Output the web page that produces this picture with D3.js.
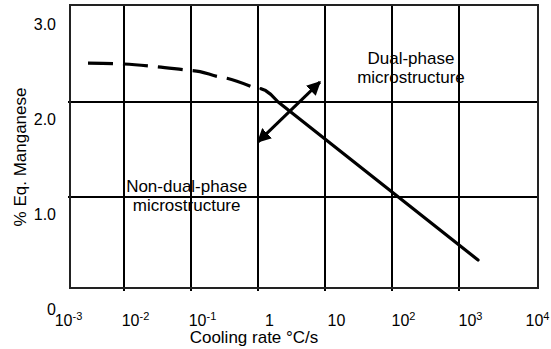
<!DOCTYPE html>
<html>
<head>
<meta charset="utf-8">
<script src="https://cdn.jsdelivr.net/npm/d3@7"></script>
<style>
  body { margin: 0; background: #fff; }
  text { font-family: "Liberation Sans", Arial, sans-serif; fill: #000; }
</style>
</head>
<body>
<svg id="chart" width="551" height="349"></svg>
<script>
// x tick values and labels (base + superscript)
const xTickValues = [1e-3, 1e-2, 1e-1, 1, 10, 1e2, 1e3, 1e4];
const xTickBase = ["10", "10", "10", "1", "10", "10", "10", "10"];
const xTickSup = ["-3", "-2", "-1", "", "", "2", "3", "4"];
const xGridValues = [1e-2, 1e-1, 1, 10, 1e2, 1e3];

const yTickValues = [0, 1, 2, 3];
const yTickLabels = ["0", "1.0", "2.0", "3.0"];
const yGridValues = [1, 2];

// boundary curve: dashed (estimated) part and solid part
const dashedX = [0.0029, 0.01, 0.032, 0.076, 0.136, 0.244, 0.344, 0.81];
const dashedY = [2.41, 2.40, 2.37, 2.34, 2.32, 2.27, 2.25, 2.16];
const solidX = [1.11, 1.3, 1.55, 2.0, 1923];
const solidY = [2.14, 2.12, 2.08, 2.0, 0.337];

// double arrow ends (data units)
const arrowX = [1.0, 8.4];
const arrowY = [1.58, 2.21];

const annotations = [
    { lines: ["Dual-phase", "microstructure"], x: 192, y: 2.4 },
    { lines: ["Non-dual-phase", "microstructure"], x: 0.086, y: 1.05 }
];

const svg = d3.select('#chart');
const box = { left: 70, right: 538, top: 5, bottom: 288 };

const x = d3.scaleLog().domain([1e-3, 1e4]).range([57, 526]);
const y = d3.scaleLinear().domain([0, 3]).range([292, 7]);

// grid
svg.append('g').selectAll('line')
    .data(xGridValues).join('line')
    .attr('x1', d => x(d)).attr('x2', d => x(d))
    .attr('y1', box.top).attr('y2', box.bottom + 3)
    .attr('stroke', '#000').attr('stroke-width', 2);

svg.append('g').selectAll('line')
    .data(yGridValues).join('line')
    .attr('x1', box.left - 2).attr('x2', box.right)
    .attr('y1', d => y(d)).attr('y2', d => y(d))
    .attr('stroke', '#000').attr('stroke-width', 2);

// frame
svg.append('rect')
    .attr('x', box.left).attr('y', box.top)
    .attr('width', box.right - box.left).attr('height', box.bottom - box.top)
    .attr('fill', 'none').attr('stroke', '#222').attr('stroke-width', 2);

// x axis labels
const xAxis = svg.append('g')
    .attr('transform', 'translate(11,310)')
    .call(d3.axisBottom(x).tickValues(xTickValues).tickSize(0).tickFormat(''));
xAxis.select('.domain').remove();
xAxis.selectAll('.tick text').remove();
xAxis.selectAll('.tick').each(function (d, i) {
    const t = d3.select(this).append('text')
        .attr('y', 16)
        .attr('text-anchor', 'middle')
        .attr('font-size', 16);
    t.append('tspan').text(xTickBase[i]);
    if (xTickSup[i]) {
        t.append('tspan').attr('font-size', 11).attr('dy', -6).text(xTickSup[i]);
    }
});

// y axis labels
const yAxis = svg.append('g')
    .attr('transform', 'translate(56,22)')
    .call(d3.axisLeft(y).tickValues(yTickValues).tickSize(0)
        .tickFormat((d, i) => yTickLabels[i]));
yAxis.select('.domain').remove();
yAxis.selectAll('.tick text')
    .attr('x', 0).attr('dy', 0)
    .attr('font-size', 16)
    .attr('font-family', '"Liberation Sans", Arial, sans-serif')
    .attr('fill', '#000');

// axis titles
svg.append('text')
    .attr('x', 254).attr('y', 343)
    .attr('text-anchor', 'middle').attr('font-size', 17)
    .text('Cooling rate °C/s');

svg.append('text')
    .attr('transform', 'translate(26,157) rotate(-90)')
    .attr('text-anchor', 'middle').attr('font-size', 17)
    .text('% Eq. Manganese');

// curves
const dashLine = d3.line()
    .x(d => x(d[0]))
    .y(d => y(d[1]))
    .curve(d3.curveMonotoneX);

const solidLine = d3.line()
    .x(d => x(d[0]))
    .y(d => y(d[1]));

svg.append('path')
    .datum(dashedX.map((v, i) => [v, dashedY[i]]))
    .attr('fill', 'none').attr('stroke', '#000')
    .attr('stroke-width', 3.2)
    .attr('stroke-dasharray', '25,10')
    .attr('d', dashLine);

svg.append('path')
    .datum(solidX.map((v, i) => [v, solidY[i]]))
    .attr('fill', 'none').attr('stroke', '#000')
    .attr('stroke-width', 3.2)
    .attr('stroke-linecap', 'round')
    .attr('stroke-linejoin', 'round')
    .attr('d', solidLine);

// double arrow
svg.append('defs').append('marker')
    .attr('id', 'head')
    .attr('viewBox', '0 0 10 10')
    .attr('refX', 9).attr('refY', 5)
    .attr('markerWidth', 14).attr('markerHeight', 14)
    .attr('markerUnits', 'userSpaceOnUse')
    .attr('orient', 'auto-start-reverse')
    .append('path')
    .attr('d', 'M0,0L10,5L0,10z')
    .attr('fill', '#000');

svg.append('line')
    .attr('x1', x(arrowX[0])).attr('y1', y(arrowY[0]))
    .attr('x2', x(arrowX[1])).attr('y2', y(arrowY[1]))
    .attr('stroke', '#000').attr('stroke-width', 3)
    .attr('marker-start', 'url(#head)')
    .attr('marker-end', 'url(#head)');

// region labels
annotations.forEach(a => {
    const t = svg.append('text')
        .attr('text-anchor', 'middle')
        .attr('font-size', 17);
    a.lines.forEach((s, i) => {
        t.append('tspan')
            .attr('x', x(a.x))
            .attr('y', y(a.y) + i * 19)
            .text(s);
    });
});
</script>
</body>
</html>
